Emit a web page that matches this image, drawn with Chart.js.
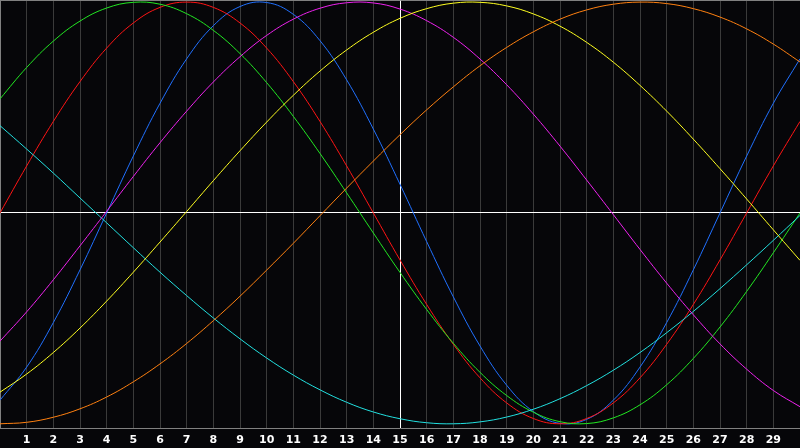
<!DOCTYPE html>
<html>
<head>
<meta charset="utf-8">
<script src="https://cdn.jsdelivr.net/npm/chart.js@4/dist/chart.umd.min.js"></script>
<style>
  html, body { margin: 0; padding: 0; background: #060609; }
  canvas { display: block; background: #060609; }
</style>
</head>
<body>
<canvas id="bio" width="800" height="448"></canvas>
<script>
// day index along the bottom axis
const days = [0, 1, 2, 3, 4, 5, 6, 7, 8, 9, 10, 11, 12, 13, 14, 15,
  16, 17, 18, 19, 20, 21, 22, 23, 24, 25, 26, 27, 28, 29, 30];

// curve values (-1 .. 1)
const blue = [-0.888, -0.731, -0.520, -0.270, 0, 0.270, 0.520, 0.731, 0.888, 0.979, 0.998, 0.942, 0.817, 0.631, 0.398, 0.136,
  -0.136, -0.398, -0.631, -0.817, -0.942, -0.998, -0.979, -0.888, -0.731, -0.520, -0.270, 0, 0.270, 0.520, 0.731];
const red = [0, 0.223, 0.434, 0.623, 0.782, 0.901, 0.975, 1.000, 0.975, 0.901, 0.782, 0.623, 0.434, 0.223, 0, -0.223,
  -0.434, -0.623, -0.782, -0.901, -0.975, -1.000, -0.975, -0.901, -0.782, -0.623, -0.434, -0.223, 0, 0.223, 0.434];
const green = [0.541, 0.690, 0.815, 0.910, 0.972, 0.999, 0.990, 0.945, 0.866, 0.756, 0.618, 0.458, 0.282, 0.095, -0.095, -0.282,
  -0.458, -0.618, -0.756, -0.866, -0.945, -0.990, -0.999, -0.972, -0.910, -0.815, -0.690, -0.541, -0.372, -0.189, 0];
const magenta = [-0.608, -0.469, -0.317, -0.156, 0.008, 0.173, 0.333, 0.483, 0.621, 0.741, 0.842, 0.919, 0.971, 0.997, 0.996, 0.967,
  0.912, 0.833, 0.730, 0.608, 0.469, 0.317, 0.156, -0.008, -0.173, -0.333, -0.483, -0.621, -0.741, -0.842, -0.919];
const yellow = [-0.850, -0.764, -0.662, -0.546, -0.418, -0.281, -0.138, 0.007, 0.153, 0.295, 0.431, 0.558, 0.673, 0.773, 0.857, 0.923,
  0.969, 0.995, 0.999, 0.982, 0.944, 0.886, 0.809, 0.715, 0.605, 0.483, 0.350, 0.210, 0.066, -0.080, -0.225];
const orange = [-1.000, -0.993, -0.969, -0.929, -0.873, -0.801, -0.716, -0.619, -0.511, -0.395, -0.271, -0.144, -0.013, 0.118, 0.246, 0.371,
  0.489, 0.598, 0.698, 0.785, 0.859, 0.919, 0.963, 0.990, 1.000, 0.993, 0.969, 0.929, 0.873, 0.801, 0.716];
const cyan = [0.414, 0.303, 0.189, 0.071, -0.047, -0.165, -0.281, -0.392, -0.498, -0.597, -0.688, -0.769, -0.839, -0.898, -0.944, -0.976,
  -0.995, -1.000, -0.991, -0.968, -0.931, -0.881, -0.819, -0.746, -0.662, -0.568, -0.467, -0.359, -0.246, -0.130, -0.012];

const todayDay = 15;
const yMin = -1.02;
const yMax = 1.01;

function series(values, color) {
  return {
    data: days.map((d, i) => ({ x: d, y: values[i] })),
    borderColor: color,
    borderWidth: 1,
    pointRadius: 0,
    tension: 0.4,
    fill: false
  };
}

new Chart(document.getElementById('bio'), {
  type: 'line',
  data: {
    datasets: [
      series(orange, '#ff8010'),
      series(yellow, '#ffff20'),
      series(magenta, '#ee22ee'),
      series(cyan, '#22e0e0'),
      series(green, '#22e822'),
      series(red, '#ff1414'),
      series(blue, '#2070ff')
    ]
  },
  options: {
    responsive: false,
    animation: false,
    devicePixelRatio: 1,
    layout: { padding: 0 },
    plugins: { legend: { display: false }, tooltip: { enabled: false } },
    scales: {
      x: {
        type: 'linear',
        min: 0,
        max: 30,
        afterFit: (s) => { s.height = 20; },
        border: { display: true, color: '#808080', width: 1 },
        grid: {
          drawTicks: true,
          tickLength: 6,
          tickColor: 'rgba(0,0,0,0)',
          color: (c) => {
            if (c.tick.value === todayDay) return '#ffffff';
            if (c.tick.value === 0) return '#808080';
            return '#3a3a3a';
          }
        },
        ticks: {
          stepSize: 1,
          autoSkip: false,
          maxRotation: 0,
          padding: 0,
          color: '#ffffff',
          font: { family: 'DejaVu Sans', size: 11, weight: 'bold' },
          callback: (v) => (v > 0 && v < 30 ? String(v) : '')
        }
      },
      y: {
        min: yMin,
        max: yMax,
        afterFit: (s) => { s.width = 0; },
        afterBuildTicks: (s) => { s.ticks = [{ value: yMin }, { value: 0 }, { value: yMax }]; },
        border: { display: true, color: '#808080', width: 1 },
        grid: {
          drawTicks: false,
          color: (c) => {
            if (c.tick.value === 0) return '#ffffff';
            if (c.tick.value === yMax) return '#808080';
            return 'rgba(0,0,0,0)';
          }
        },
        ticks: { display: false }
      }
    }
  }
});
</script>
</body>
</html>
